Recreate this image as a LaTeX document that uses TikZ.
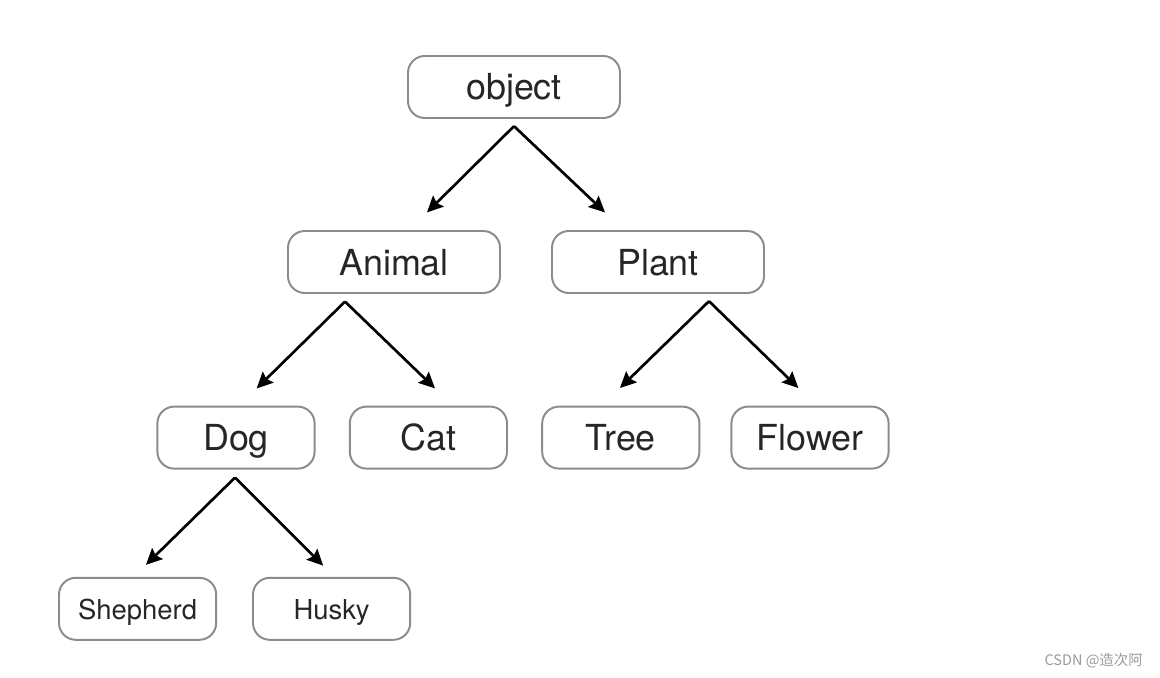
\documentclass[tikz,border=0pt]{standalone}
\usepackage{fontspec}
\setmainfont{TeX Gyre Heros}
\newfontfamily\cjkfont{Noto Sans CJK SC}
\usetikzlibrary{arrows.meta}
\definecolor{ink}{HTML}{262626}
\definecolor{frame}{HTML}{8C8C8C}
\definecolor{mark}{HTML}{9A9A9A}

\begin{document}
\begin{tikzpicture}[
  text=ink,
  box/.style={draw=frame, line width=1.4pt, rounded corners=.42cm,
    minimum height=1.55cm, inner sep=0pt},
  wide/.style={box, minimum width=5.3cm, text height=.8cm, text depth=.15cm,
    font=\fontsize{25.5}{30}\selectfont},
  narrow/.style={wide, minimum width=3.93cm},
  leaf/.style={box, minimum width=3.93cm, text height=.7cm, text depth=.15cm,
    font=\fontsize{19.5}{23}\selectfont},
  arrow/.style={-{Stealth[length=4mm, width=3.8mm, inset=.6mm]}, draw=black,
    line width=1.9pt}
]
\useasboundingbox (0,0) rectangle (29,-16.95);

% Top of the hierarchy
\node[wide] (object) at (12.85,-2.175) {object};
\node[wide] (animal) at (9.85,-6.55) {Animal};
\node[wide] (plant) at (16.45,-6.55) {Plant};

% Third level
\node[narrow] (dog) at (5.9,-10.94) {Dog};
\node[narrow] (cat) at (10.71,-10.94) {Cat};
\node[narrow] (tree) at (15.52,-10.94) {Tree};
\node[narrow] (flower) at (20.25,-10.94) {Flower};

% Dog breeds
\node[leaf] (shepherd) at (3.44,-15.22) {Shepherd};
\node[leaf] (husky) at (8.29,-15.22) {Husky};

\draw[arrow] ([yshift=-.18cm]object.south) -- ([shift={(.825,.44)}]animal.north);
\draw[arrow] ([yshift=-.18cm]object.south) -- ([shift={(-1.325,.44)}]plant.north);
\draw[arrow] ([shift={(-1.225,-.19)}]animal.south) -- ([shift={(.517,.43)}]dog.north);
\draw[arrow] ([shift={(-1.225,-.19)}]animal.south) -- ([shift={(.165,.43)}]cat.north);
\draw[arrow] ([shift={(1.275,-.18)}]plant.south) -- ([shift={(-.02,.44)}]tree.north);
\draw[arrow] ([shift={(1.275,-.18)}]plant.south) -- ([shift={(-.29,.44)}]flower.north);
\draw[arrow] ([shift={(-.025,-.2)}]dog.south) -- ([shift={(.21,.3)}]shepherd.north);
\draw[arrow] ([shift={(-.025,-.2)}]dog.south) -- ([shift={(-.21,.28)}]husky.north);

\node[anchor=east, text=mark, inner sep=0pt, font=\cjkfont\fontsize{10.3}{12}\selectfont]
  (credit) at (28.58,-16.52) {CSDN @造次阿};
\end{tikzpicture}
\end{document}
